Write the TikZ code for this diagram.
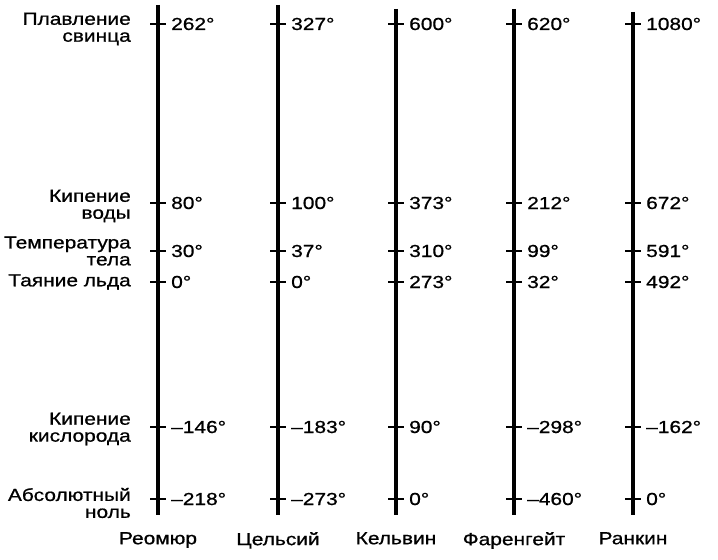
\documentclass[tikz,border=0pt]{standalone}
\usepackage{fontspec}
\setmainfont{Liberation Sans}[FakeStretch=1.2, FakeBold=0.8]
\begin{document}
\begin{tikzpicture}[x=1bp, y=-1bp,
  tscale/.style = {line width=3.4bp, black},
  ttick/.style = {line width=2.6bp, black},
  tval/.style = {anchor=west, inner sep=0pt, font=\fontsize{17.5}{17}\selectfont},
  tname/.style = {anchor=north, inner sep=0pt, font=\fontsize{17.5}{17}\selectfont},
  tpoint/.style = {anchor=east, align=right, inner sep=0pt, font=\fontsize{17.5}{17}\selectfont}
]
  \useasboundingbox (0,0) rectangle (718,560);
  % шкалы
  \foreach \i/\x/\top/\nm/\vals in {
      1/158/5/Реомюр/{262°,80°,30°,0°,–146°,–218°},
      2/278/5/Цельсий/{327°,100°,37°,0°,–183°,–273°},
      3/396/9/Кельвин/{600°,373°,310°,273°,90°,0°},
      4/514/9/Фаренгейт/{620°,212°,99°,32°,–298°,–460°},
      5/633/12/Ранкин/{1080°,672°,591°,492°,–162°,0°}} {
    \coordinate (top\i) at (\x,\top);
    \coordinate (bot\i) at (\x,515);
    \draw[tscale] (top\i) -- (bot\i);
    \node[tname] (n\i) at (\x,532) {\nm};
    \foreach \v [count=\j] in \vals {
      \pgfmathsetmacro\ty{{24,203,251,282,427,499}[\j-1]}
      \coordinate (t\i-\j) at (\x,\ty);
      \draw[ttick] ([xshift=-8bp]t\i-\j) -- ([xshift=8bp]t\i-\j);
      \node[tval] (s\i-\j) at ([xshift=13bp]t\i-\j) {\v};
    }
  }
  % точки
  \node[tpoint] (p1) at (131,29) {Плавление\\свинца};
  \node[tpoint] (p2) at (131,206) {Кипение\\воды};
  \node[tpoint] (p3) at (131,251) {Температура\\тела};
  \node[tpoint] (p4) at (131,282) {Таяние льда};
  \node[tpoint] (p5) at (131,429) {Кипение\\кислорода};
  \node[tpoint] (p6) at (131,503) {Абсолютный\\ноль};
\end{tikzpicture}
\end{document}
